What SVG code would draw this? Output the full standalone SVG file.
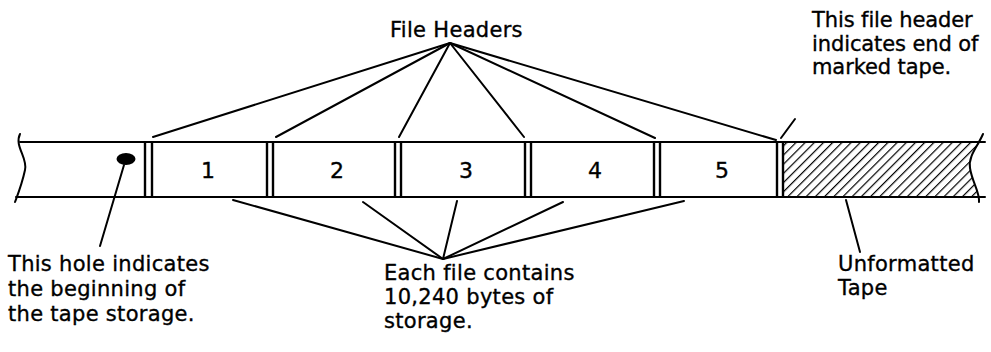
<svg xmlns="http://www.w3.org/2000/svg" width="991" height="352" viewBox="0 0 991 352">
<style>
.t{font-family:"DejaVu Sans","Liberation Sans",sans-serif;font-size:21px;letter-spacing:0.3px;fill:#000;stroke:#000;stroke-width:0.35}
.r{letter-spacing:-0.1px}
.n{font-family:"DejaVu Sans","Liberation Sans",sans-serif;font-size:22px;fill:#000;stroke:#000;stroke-width:0.35;text-anchor:middle}
.l{stroke:#000;stroke-width:2;fill:none;stroke-linecap:round}
.b{stroke:#000;stroke-width:2.4;fill:none}
</style>
<defs>
<pattern id="hatch" patternUnits="userSpaceOnUse" width="6.5" height="6.5" patternTransform="rotate(45)">
<line x1="0" y1="0" x2="0" y2="6.5" stroke="#000" stroke-width="2.4"/>
</pattern>
<clipPath id="unf"><path d="M782 142 L980 142 C976 150 968 158 970 168 C972 182 978 192 980 197 L782 197 Z"/></clipPath>
</defs>
<rect width="991" height="352" fill="#fff"/>
<g id="tape">
<path class="l" d="M20 134 C14 146 28 158 25 170 C22 184 18 194 15 202"/>
<line class="l" x1="20" y1="142" x2="985" y2="142"/>
<line class="l" x1="16" y1="197" x2="985" y2="197"/>
<path class="l" d="M983 134 C978 146 968 156 970 168 C972 182 980 192 979 202"/>
<rect x="782" y="142" width="200" height="55" fill="url(#hatch)" clip-path="url(#unf)"/>
<ellipse cx="126" cy="159" rx="9.5" ry="6" fill="#000"/>
</g>
<g id="headers">
<line class="b" x1="145" y1="142" x2="145" y2="197"/><line class="b" x1="152" y1="142" x2="152" y2="197"/>
<line class="b" x1="267" y1="142" x2="267" y2="197"/><line class="b" x1="273" y1="142" x2="273" y2="197"/>
<line class="b" x1="395" y1="142" x2="395" y2="197"/><line class="b" x1="401" y1="142" x2="401" y2="197"/>
<line class="b" x1="525" y1="142" x2="525" y2="197"/><line class="b" x1="531" y1="142" x2="531" y2="197"/>
<line class="b" x1="654" y1="142" x2="654" y2="197"/><line class="b" x1="660" y1="142" x2="660" y2="197"/>
<line class="b" x1="777" y1="142" x2="777" y2="197"/><line class="b" x1="783" y1="142" x2="783" y2="197"/>
</g>
<g id="file1"><text class="n" x="208" y="178">1</text></g>
<g id="file2"><text class="n" x="337" y="178">2</text></g>
<g id="file3"><text class="n" x="466" y="178">3</text></g>
<g id="file4"><text class="n" x="595" y="178">4</text></g>
<g id="file5"><text class="n" x="722" y="178">5</text></g>
<g id="label-file-headers"><text class="t" x="390" y="37">File Headers</text></g>
<g id="label-end"><text class="t r" x="812" y="27">This file header</text><text class="t r" x="812" y="51">indicates end of</text><text class="t r" x="812" y="74">marked tape.</text></g>
<g id="label-hole"><text class="t" x="8" y="271">This hole indicates</text><text class="t" x="8" y="296">the beginning of</text><text class="t" x="8" y="321">the tape storage.</text></g>
<g id="label-each"><text class="t" x="384" y="280">Each file contains</text><text class="t" x="384" y="304">10,240 bytes of</text><text class="t" x="384" y="328">storage.</text></g>
<g id="label-unformatted"><text class="t" x="838" y="271">Unformatted</text><text class="t" x="838" y="295">Tape</text></g>
<g id="connectors">
<line class="l" x1="450" y1="43" x2="153" y2="137"/>
<line class="l" x1="450" y1="43" x2="276" y2="137"/>
<line class="l" x1="450" y1="43" x2="399" y2="137"/>
<line class="l" x1="450" y1="43" x2="524" y2="137"/>
<line class="l" x1="450" y1="43" x2="655" y2="138"/>
<line class="l" x1="450" y1="43" x2="776" y2="140"/>
<line class="l" x1="781" y1="138" x2="795" y2="119"/>
<line class="l" x1="443" y1="259" x2="233" y2="200"/>
<line class="l" x1="443" y1="259" x2="363" y2="202"/>
<line class="l" x1="443" y1="259" x2="457" y2="201"/>
<line class="l" x1="443" y1="259" x2="563" y2="202"/>
<line class="l" x1="443" y1="259" x2="684" y2="201"/>
<line class="l" x1="124" y1="165" x2="100" y2="246"/>
<line class="l" x1="846" y1="200" x2="860" y2="252"/>
</g>
</svg>
